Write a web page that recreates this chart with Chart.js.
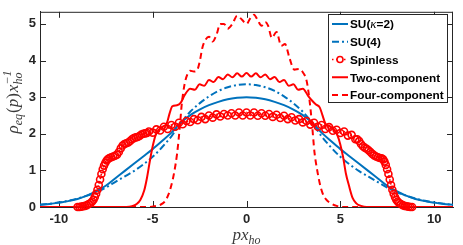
<!DOCTYPE html>
<html>
<head>
<meta charset="utf-8">
<script src="https://cdn.jsdelivr.net/npm/chart.js@4.4.1/dist/chart.umd.min.js"></script>
<style>
  html, body { margin: 0; padding: 0; background: #fff; }
</style>
</head>
<body>
<canvas id="grafica" width="463" height="245"></canvas>
<script>
// ticks
const xTicks = [-10, -5, 0, 5, 10];
const yTicks = [0, 1, 2, 3, 4, 5];

// SU(kappa=2) y SU(4), mismas abscisas
const suX = [-11, -10.5, -10, -9.5, -9, -8.5, -8, -7.5, -7, -6.5, -6, -5.5, -5, -4.5, -4, -3.5, -3, -2.5, -2, -1.5, -1, -0.5,
  0, 0.5, 1, 1.5, 2, 2.5, 3, 3.5, 4, 4.5, 5, 5.5, 6, 6.5, 7, 7.5, 8, 8.5, 9, 9.5, 10, 10.5, 11];
const suK2Y = [0.06, 0.08, 0.12, 0.16, 0.22, 0.31, 0.43, 0.58, 0.78, 0.98, 1.18, 1.38, 1.58, 1.8, 2.03, 2.3, 2.51, 2.66, 2.78, 2.87, 2.94, 2.98,
  3.0, 2.98, 2.94, 2.87, 2.78, 2.66, 2.51, 2.3, 2.03, 1.8, 1.58, 1.38, 1.18, 0.98, 0.78, 0.58, 0.43, 0.31, 0.22, 0.16, 0.12, 0.08, 0.06];
const su4Y = [0.06, 0.09, 0.12, 0.17, 0.23, 0.31, 0.41, 0.53, 0.68, 0.83, 0.98, 1.16, 1.37, 1.63, 1.93, 2.3, 2.6, 2.83, 3.02, 3.17, 3.27, 3.33,
  3.35, 3.33, 3.27, 3.17, 3.02, 2.83, 2.6, 2.3, 1.93, 1.63, 1.37, 1.16, 0.98, 0.83, 0.68, 0.53, 0.41, 0.31, 0.23, 0.17, 0.12, 0.09, 0.06];

// Spinless (marcadores densos)
const spinX = [-9.0, -8.9, -8.8, -8.7, -8.6, -8.5, -8.4, -8.3, -8.22, -8.15, -8.08, -8.01, -7.94, -7.87, -7.8, -7.73, -7.66,
  -7.59, -7.52, -7.45, -7.38, -7.3, -7.2, -7.1, -7.0, -6.9, -6.8, -6.7, -6.6, -6.5, -6.4, -6.3, -6.2, -6.1, -6.0, -5.9, -5.8,
  -5.7, -5.6, -5.5, -5.4, -5.3, -5.2, -5.0, -4.8, -4.6, -4.4, -4.2, -4.0, -3.8, -3.6, -3.4, -3.2, -3.0, -2.8, -2.6, -2.4,
  -2.2, -2.0, -1.8, -1.6, -1.4, -1.2, -1.0, -0.8, -0.6, -0.4, -0.2, 0, 0.2, 0.4, 0.6, 0.8, 1.0, 1.2, 1.4, 1.6, 1.8, 2.0,
  2.2, 2.4, 2.6, 2.8, 3.0, 3.2, 3.4, 3.6, 3.8, 4.0, 4.2, 4.4, 4.6, 4.8, 5.0, 5.2, 5.4, 5.6, 5.8, 5.9, 6.0, 6.1, 6.2, 6.3,
  6.4, 6.5, 6.6, 6.7, 6.8, 6.9, 7.0, 7.1, 7.2, 7.28, 7.35, 7.42, 7.49, 7.56, 7.63, 7.7, 7.77, 7.84, 7.91, 7.98, 8.05, 8.13,
  8.22, 8.32, 8.42, 8.52, 8.62, 8.72, 8.82];
const spinY = [0.0, 0.0, 0.01, 0.02, 0.03, 0.05, 0.08, 0.11, 0.15, 0.2, 0.27, 0.36, 0.47, 0.6, 0.75, 0.9, 1.03,
  1.13, 1.21, 1.27, 1.31, 1.34, 1.36, 1.38, 1.4, 1.43, 1.5, 1.6, 1.68, 1.72, 1.74, 1.76, 1.8, 1.85, 1.88, 1.9, 1.91,
  1.94, 1.98, 2.0, 2.01, 2.02, 2.06, 2.03, 2.12, 2.09, 2.19, 2.13, 2.24, 2.19, 2.3, 2.26, 2.35, 2.32, 2.4, 2.37, 2.46,
  2.4, 2.5, 2.44, 2.53, 2.47, 2.54, 2.5, 2.56, 2.5, 2.58, 2.5, 2.58, 2.5, 2.58, 2.49, 2.56, 2.49, 2.54, 2.46, 2.52, 2.43, 2.49,
  2.4, 2.45, 2.36, 2.4, 2.31, 2.35, 2.25, 2.3, 2.19, 2.24, 2.13, 2.18, 2.08, 2.11, 2.02, 2.06, 1.95, 1.97, 1.85, 1.85, 1.8, 1.72, 1.66, 1.62,
  1.59, 1.55, 1.5, 1.45, 1.41, 1.38, 1.36, 1.34, 1.33, 1.3, 1.24, 1.15, 1.03, 0.9, 0.75, 0.6, 0.47, 0.36, 0.27, 0.2, 0.15, 0.11,
  0.08, 0.05, 0.03, 0.02, 0.01, 0.0, 0.0];

// Two-component
const dosX = [-11, -6.4, -6.1, -5.85, -5.65, -5.45, -5.3, -5.15, -5.0, -4.85, -4.65, -4.45, -4.25, -4.1, -3.95, -3.7, -3.5, -3.3,
  -3.0, -2.75, -2.5, -2.25, -2.0, -1.75, -1.5, -1.25, -1.0, -0.75, -0.5, -0.25, 0, 0.25, 0.5, 0.75, 1.0, 1.25, 1.5, 1.75, 2.0,
  2.25, 2.5, 2.75, 3.0, 3.3, 3.5, 3.7, 3.9, 4.05, 4.2, 4.45, 4.65, 4.85, 5.0, 5.15, 5.3, 5.45, 5.65, 5.85, 6.1, 6.4, 11];
const dosY = [0, 0, 0.02, 0.08, 0.2, 0.45, 0.8, 1.25, 1.65, 1.95, 2.12, 2.2, 2.28, 2.55, 2.75, 2.78, 2.85, 3.05,
  3.23, 3.2, 3.35, 3.31, 3.47, 3.41, 3.55, 3.49, 3.62, 3.54, 3.65, 3.56, 3.66, 3.56, 3.65, 3.54, 3.62, 3.49, 3.55, 3.41, 3.47,
  3.31, 3.35, 3.2, 3.23, 3.02, 2.9, 2.8, 2.72, 2.5, 2.28, 2.2, 2.12, 1.95, 1.7, 1.35, 0.9, 0.6, 0.25, 0.1, 0.03, 0, 0];

// Four-component
const cuatroX = [-11, -5.2, -4.9, -4.6, -4.35, -4.15, -4.0, -3.85, -3.7, -3.55, -3.45, -3.3, -3.15, -3.0, -2.8, -2.65, -2.5,
  -2.35, -2.2, -2.0, -1.8, -1.6, -1.4, -1.2, -1.0, -0.75, -0.5, -0.25, 0, 0.2, 0.4, 0.6, 0.8, 1.0, 1.15, 1.35, 1.6, 1.85,
  2.05, 2.3, 2.55, 2.8, 3.0, 3.2, 3.35, 3.5, 3.62, 3.75, 3.9, 4.05, 4.25, 4.5, 4.8, 5.1, 11];
const cuatroY = [0, 0, 0.02, 0.06, 0.15, 0.35, 0.6, 0.95, 1.45, 2.2, 2.8, 3.35, 3.62, 3.72, 3.7, 3.72, 3.95,
  4.35, 4.55, 4.65, 4.52, 4.7, 5.0, 5.0, 4.87, 5.0, 5.22, 5.12, 5.0, 5.15, 5.25, 5.1, 4.95, 5.05, 4.95, 4.62, 4.78, 4.4,
  4.45, 4.05, 3.75, 3.77, 3.68, 3.45, 2.95, 2.2, 1.5, 1.05, 0.65, 0.38, 0.2, 0.1, 0.03, 0, 0];

const azul = '#0072BD';
const rojo = '#FF0000';
const ejeColor = '#262626';
const fuenteTicks = { family: '"Liberation Sans", Arial, sans-serif', size: 13, weight: 'bold' };

function pares(xs, ys) {
    return xs.map((x, i) => ({ x: x, y: ys[i] }));
}

// marco y ticks hacia adentro (estilo matlab)
const marcoPlugin = {
    id: 'marco',
    beforeDatasetsDraw(chart) {
        const c = chart.ctx;
        const a = chart.chartArea;
        const sx = chart.scales.x;
        const sy = chart.scales.y;
        const largo = 6;
        c.save();
        c.strokeStyle = ejeColor;
        c.lineWidth = 1;
        c.beginPath();
        c.moveTo(a.left, a.top + 0.5);
        c.lineTo(a.right, a.top + 0.5);
        c.moveTo(a.right - 0.5, a.top);
        c.lineTo(a.right - 0.5, a.bottom);
        xTicks.forEach(v => {
            const px = Math.round(sx.getPixelForValue(v)) + 0.5;
            c.moveTo(px, a.bottom);
            c.lineTo(px, a.bottom - largo);
            c.moveTo(px, a.top);
            c.lineTo(px, a.top + largo);
        });
        yTicks.forEach(v => {
            const py = Math.round(sy.getPixelForValue(v)) + 0.5;
            c.moveTo(a.left, py);
            c.lineTo(a.left + largo, py);
            c.moveTo(a.right, py);
            c.lineTo(a.right - largo, py);
        });
        c.stroke();
        c.restore();
    }
};

// texto con subindices / superindices
function textoRico(c, partes) {
    let ancho = 0;
    partes.forEach(p => {
        c.font = p.f;
        let w = c.measureText(p.t).width;
        if (p.sup) {
            c.font = p.fs;
            w = Math.max(w, c.measureText(p.sup).width);
        }
        p.w = w;
        ancho += w + (p.esp || 0);
    });
    let x = -ancho / 2;
    partes.forEach(p => {
        x += (p.esp || 0);
        c.font = p.f;
        c.fillText(p.t, x, p.dy || 0);
        if (p.sup) {
            c.font = p.fs;
            c.fillText(p.sup, x, p.dsup);
        }
        x += p.w;
    });
}

const titulosPlugin = {
    id: 'titulos',
    afterDraw(chart) {
        const c = chart.ctx;
        const it = 'italic 17px "Liberation Serif", serif';
        const up = '17px "Liberation Serif", serif';
        const sub = 'italic 12px "Liberation Serif", serif';
        c.save();
        c.fillStyle = '#3a3a3a';
        c.textBaseline = 'alphabetic';
        c.textAlign = 'left';
        // eje x
        c.save();
        c.translate(chart.scales.x.getPixelForValue(0), 240);
        textoRico(c, [
            { t: 'px', f: it },
            { t: 'ho', f: sub, dy: 4 }
        ]);
        c.restore();
        // eje y
        c.save();
        c.translate(18, 102);
        c.rotate(-Math.PI / 2);
        textoRico(c, [
            { t: 'ρ', f: it },
            { t: 'eq', f: sub, dy: 4 },
            { t: '(', f: up, esp: 1 },
            { t: 'p', f: it },
            { t: ')', f: up },
            { t: 'x', f: it, esp: 1 },
            { t: 'ho', f: sub, dy: 4, sup: '−1', fs: sub, dsup: -7 }
        ]);
        c.restore();
        c.restore();
    }
};

// leyenda dentro del area
const leyendaPlugin = {
    id: 'leyenda',
    afterDraw(chart) {
        const c = chart.ctx;
        const x0 = 328, y0 = 14, w = 119, h = 88;
        c.save();
        c.fillStyle = '#fff';
        c.fillRect(x0, y0, w, h);
        c.strokeStyle = ejeColor;
        c.lineWidth = 1;
        c.strokeRect(x0 + 0.5, y0 + 0.5, w, h);
        chart.data.datasets.forEach((ds, i) => {
            const y = 24 + i * 17.75;
            c.strokeStyle = ds.borderColor;
            c.lineWidth = ds.borderWidth;
            c.setLineDash(ds.borderDash || []);
            c.beginPath();
            c.moveTo(332, y);
            c.lineTo(348, y);
            c.stroke();
            c.setLineDash([]);
            if (ds.pointRadius > 0) {
                c.lineWidth = ds.pointBorderWidth;
                c.beginPath();
                c.arc(340, y, 3, 0, Math.PI * 2);
                c.fillStyle = '#fff';
                c.fill();
                c.stroke();
            }
            c.fillStyle = '#000';
            c.textBaseline = 'middle';
            c.textAlign = 'left';
            const negrita = 'bold 11.8px "Liberation Sans", Arial, sans-serif';
            const trozos = ds.label.split('κ');
            let x = 350;
            trozos.forEach((t, k) => {
                c.font = negrita;
                c.fillText(t, x, y + 1);
                x += c.measureText(t).width;
                if (k < trozos.length - 1) {
                    c.font = 'italic 13px "Liberation Serif", serif';
                    c.fillText('κ', x, y + 1);
                    x += c.measureText('κ').width;
                }
            });
        });
        c.restore();
    }
};

const ctx = document.getElementById('grafica').getContext('2d');
const myChart = new Chart(ctx, {
    type: 'line',
    data: {
        datasets: [{
            label: 'SU(κ=2)',
            data: pares(suX, suK2Y),
            borderColor: azul,
            borderWidth: 2,
            pointRadius: 0,
            cubicInterpolationMode: 'monotone',
            order: 5
        }, {
            label: 'SU(4)',
            data: pares(suX, su4Y),
            borderColor: azul,
            borderWidth: 2,
            borderDash: [7, 3, 2, 3],
            pointRadius: 0,
            cubicInterpolationMode: 'monotone',
            order: 4
        }, {
            label: 'Spinless',
            data: pares(spinX, spinY),
            borderColor: rojo,
            borderWidth: 1.5,
            borderDash: [1.5, 2.5],
            pointRadius: 3.5,
            pointBorderWidth: 1.6,
            pointBorderColor: rojo,
            pointBackgroundColor: 'rgba(255,255,255,0)',
            clip: false,
            order: 3
        }, {
            label: 'Two-component',
            data: pares(dosX, dosY),
            borderColor: rojo,
            borderWidth: 2,
            pointRadius: 0,
            cubicInterpolationMode: 'monotone',
            order: 2
        }, {
            label: 'Four-component',
            data: pares(cuatroX, cuatroY),
            borderColor: rojo,
            borderWidth: 2,
            borderDash: [6, 4],
            pointRadius: 0,
            cubicInterpolationMode: 'monotone',
            order: 1
        }]
    },
    options: {
        responsive: false,
        devicePixelRatio: 1,
        animation: false,
        layout: { padding: { left: 0, right: 10, top: 6, bottom: 0 } },
        plugins: {
            legend: { display: false },
            tooltip: { enabled: false }
        },
        scales: {
            x: {
                type: 'linear',
                min: -11,
                max: 11,
                afterBuildTicks: s => { s.ticks = xTicks.map(v => ({ value: v })); },
                afterFit: s => { s.height = 38; },
                grid: { display: false, drawTicks: false },
                border: { display: true, color: ejeColor, width: 1 },
                ticks: { font: fuenteTicks, color: ejeColor, padding: 5, maxRotation: 0, autoSkip: false }
            },
            y: {
                type: 'linear',
                min: 0,
                max: 5.33,
                afterBuildTicks: s => { s.ticks = yTicks.map(v => ({ value: v })); },
                afterFit: s => { s.width = 40; },
                grid: { display: false, drawTicks: false },
                border: { display: true, color: ejeColor, width: 1 },
                ticks: { font: fuenteTicks, color: ejeColor, padding: 4, autoSkip: false }
            }
        }
    },
    plugins: [marcoPlugin, titulosPlugin, leyendaPlugin]
});
</script>
</body>
</html>
